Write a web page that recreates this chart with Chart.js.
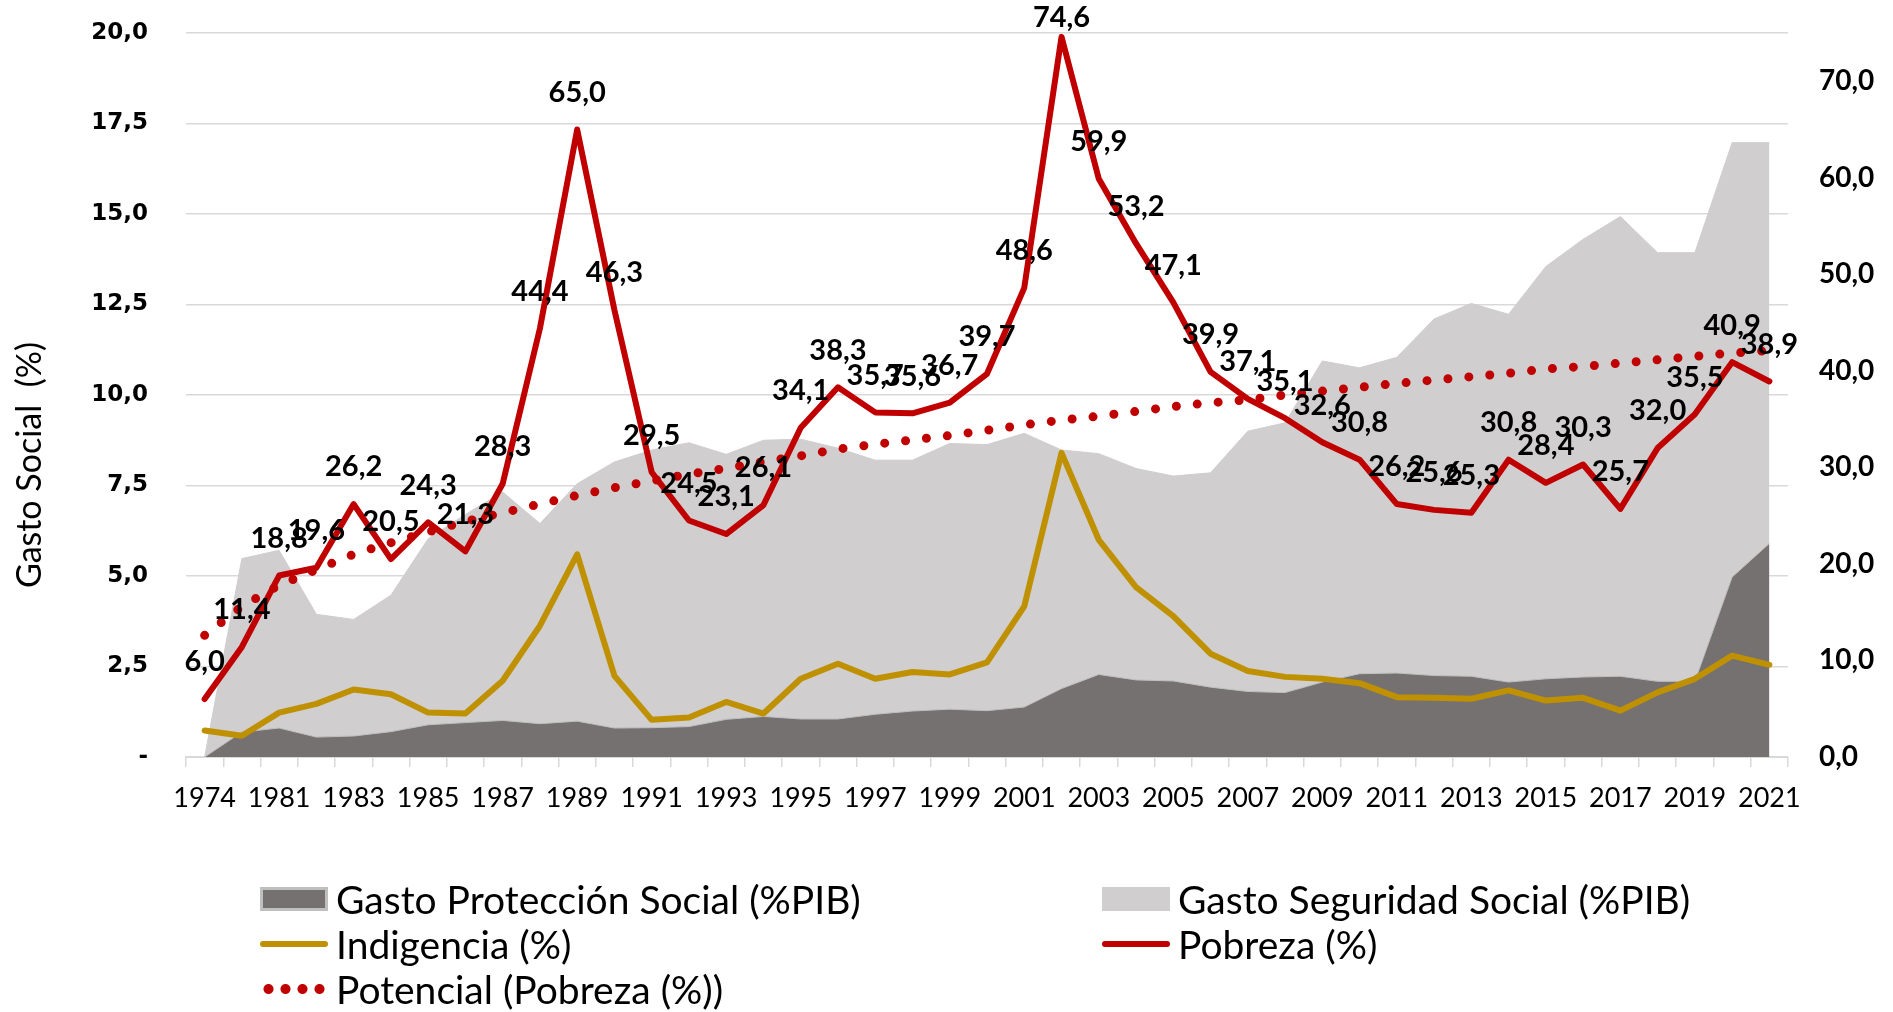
<!DOCTYPE html>
<html lang="es">
<head>
<meta charset="utf-8">
<title>Gasto social, pobreza e indigencia</title>
<script src="https://cdn.jsdelivr.net/npm/chart.js@4.4.1/dist/chart.umd.min.js"></script>
<style>
  html, body { margin: 0; padding: 0; background: #fff; overflow: hidden; }
  #wrap { position: relative; width: 1893px; height: 1012px; }
  #legend {
    position: absolute; left: 260px; top: 876px;
    display: grid; grid-template-columns: 842px auto;
    font-family: Lato, sans-serif; font-size: 39px; color: #000;
  }
  .item { display: flex; align-items: center; height: 45px; white-space: nowrap; }
  .mk { width: 68px; margin-right: 8px; flex: none; box-sizing: border-box; }
</style>
</head>
<body>
<div id="wrap">
  <canvas id="chart" width="1893" height="1012"></canvas>
  <div id="legend"></div>
</div>
<script>
// Gasto social (%PIB, eje izq.) vs pobreza / indigencia (% , eje der.)

const years = ['1974', '1980', '1981', '1982', '1983', '1984', '1985', '1986', '1987', '1988',
  '1989', '1990', '1991', '1992', '1993', '1994', '1995', '1996', '1997', '1998', '1999',
  '2000', '2001', '2002', '2003', '2004', '2005', '2006', '2007', '2008', '2009', '2010',
  '2011', '2012', '2013', '2014', '2015', '2016', '2017', '2018', '2019', '2020', '2021'];

const proteccion = [0, 0.69, 0.80, 0.55, 0.58, 0.70, 0.89, 0.95, 1.01, 0.92, 0.99, 0.80, 0.81,
  0.84, 1.04, 1.12, 1.05, 1.05, 1.18, 1.27, 1.32, 1.28, 1.38, 1.89, 2.28, 2.13, 2.10, 1.93,
  1.81, 1.78, 2.07, 2.30, 2.32, 2.25, 2.23, 2.07, 2.16, 2.21, 2.23, 2.09, 2.09, 4.97, 5.90];

const seguridad = [0, 5.48, 5.71, 3.94, 3.80, 4.47, 6.03, 6.70, 7.32, 6.45, 7.55, 8.15, 8.48,
  8.68, 8.36, 8.75, 8.78, 8.53, 8.20, 8.20, 8.66, 8.63, 8.94, 8.48, 8.38, 7.97, 7.76, 7.85,
  9.00, 9.23, 10.94, 10.75, 11.04, 12.10, 12.53, 12.23, 13.55, 14.30, 14.93, 13.93, 13.93,
  16.97, 16.97];

const indigencia = [2.75, 2.2, 4.6, 5.5, 7.0, 6.5, 4.6, 4.5, 7.9, 13.6, 21.0, 8.4, 3.85, 4.1,
  5.7, 4.5, 8.1, 9.66, 8.1, 8.8, 8.55, 9.8, 15.6, 31.5, 22.5, 17.6, 14.6, 10.7, 8.9, 8.3,
  8.1, 7.65, 6.2, 6.13, 6.03, 6.9, 5.85, 6.13, 4.8, 6.7, 8.1, 10.5, 9.55];

const pobreza = [6.0, 11.4, 18.8, 19.6, 26.2, 20.5, 24.3, 21.3, 28.3, 44.4, 65.0, 46.3, 29.5,
  24.5, 23.1, 26.1, 34.1, 38.3, 35.7, 35.6, 36.7, 39.7, 48.6, 74.6, 59.9, 53.2, 47.1, 39.9,
  37.1, 35.1, 32.6, 30.8, 26.2, 25.6, 25.3, 30.8, 28.4, 30.3, 25.7, 32.0, 35.5, 40.9, 38.9];

// tendencia potencial
const potencial = [12.6, 15.6, 17.8, 19.4, 21.0, 22.2, 23.3, 24.4, 25.3, 26.2, 27.1, 27.9,
  28.6, 29.3, 29.9, 30.6, 31.2, 31.9, 32.4, 32.85, 33.3, 33.85, 34.4, 34.9, 35.3, 35.8, 36.3,
  36.7, 37.0, 37.5, 37.9, 38.3, 38.7, 39.05, 39.4, 39.75, 40.2, 40.45, 40.8, 41.15, 41.5,
  41.85, 42.1];

const leftTicks = [0, 2.5, 5, 7.5, 10, 12.5, 15, 17.5, 20];

const dark = '#767171';
const light = '#D0CECE';
const gold = '#BF9000';
const red = '#C00000';
const rule = '#D9D9D9';

const comma = (v) => v.toFixed(1).replace('.', ',');

// fixed side widths, no extra label padding above/below the plot
function fixSide(width) {
  return (s) => {
    s.width = width;
    s.paddingTop = 0;
    s.paddingBottom = 0;
  };
}

const pobrezaLabels = {
  id: 'pobrezaLabels',
  afterDatasetsDraw(chart) {
    const meta = chart.getDatasetMeta(3);
    const ctx = chart.ctx;
    ctx.save();
    ctx.font = 'bold 29px Lato';
    ctx.fillStyle = '#000';
    ctx.textAlign = 'center';
    ctx.textBaseline = 'middle';
    meta.data.forEach((pt, i) => {
      ctx.fillText(comma(pobreza[i]), pt.x, Math.max(pt.y - 37, 18));
    });
    ctx.restore();
  },
};

const sideTitle = {
  id: 'sideTitle',
  afterDraw(chart) {
    const { ctx, chartArea } = chart;
    ctx.save();
    ctx.translate(30, (chartArea.top + chartArea.bottom) / 2 + 70);
    ctx.rotate(-Math.PI / 2);
    ctx.font = '34px Lato';
    ctx.fillStyle = '#000';
    ctx.textAlign = 'center';
    ctx.textBaseline = 'middle';
    ctx.fillText('Gasto Social  (%)', 0, 0);
    ctx.restore();
  },
};

const chart = new Chart(document.getElementById('chart'), {
  type: 'line',
  data: {
    labels: years,
    datasets: [
      {
        label: 'Gasto Protección Social (%PIB)',
        data: proteccion,
        yAxisID: 'y',
        fill: 'origin',
        backgroundColor: dark,
        borderColor: '#BFBFBF',
        borderWidth: 1,
        pointRadius: 0,
        order: 3,
      },
      {
        label: 'Gasto Seguridad Social (%PIB)',
        data: seguridad,
        yAxisID: 'y',
        fill: 'origin',
        backgroundColor: light,
        borderColor: light,
        borderWidth: 1,
        pointRadius: 0,
        order: 4,
      },
      {
        label: 'Indigencia (%)',
        data: indigencia,
        yAxisID: 'y1',
        fill: false,
        borderColor: gold,
        borderWidth: 6,
        borderJoinStyle: 'round',
        borderCapStyle: 'round',
        pointRadius: 0,
        order: 2,
      },
      {
        label: 'Pobreza (%)',
        data: pobreza,
        yAxisID: 'y1',
        fill: false,
        borderColor: red,
        borderWidth: 6,
        borderJoinStyle: 'round',
        borderCapStyle: 'round',
        pointRadius: 0,
        order: 1,
      },
      {
        label: 'Potencial (Pobreza (%))',
        data: potencial,
        yAxisID: 'y1',
        fill: false,
        borderColor: red,
        borderWidth: 9,
        borderDash: [0, 21],
        borderCapStyle: 'round',
        pointRadius: 0,
        order: 0,
      },
    ],
  },
  options: {
    responsive: false,
    animation: false,
    events: [],
    elements: { line: { tension: 0 } },
    layout: { autoPadding: false, padding: { top: 33, left: 0, right: 0, bottom: 0 } },
    plugins: {
      legend: { display: false },
      tooltip: { enabled: false },
    },
    scales: {
      x: {
        offset: true,
        grid: { offset: true, drawOnChartArea: false, tickLength: 10, color: rule, lineWidth: 1.5 },
        border: { color: rule, width: 2 },
        ticks: {
          autoSkip: false,
          maxRotation: 0,
          padding: 15,
          color: '#000',
          font: { family: 'Lato', size: 27 },
          callback: (v, i) => (i % 2 === 0 ? years[i] : ''),
        },
        afterFit: (s) => { s.height = 255; },
      },
      y: {
        position: 'left',
        min: 0,
        max: 20,
        afterBuildTicks: (s) => { s.ticks = leftTicks.map((v) => ({ value: v })); },
        grid: { color: rule, lineWidth: 1.5, drawTicks: false },
        border: { display: false },
        ticks: {
          padding: 38,
          color: '#000',
          font: { family: 'DejaVu Sans', size: 23, weight: 'bold' },
          callback: (v) => (v === 0 ? '-' : comma(v)),
        },
        afterFit: fixSide(186),
      },
      y1: {
        position: 'right',
        min: 0,
        max: 75,
        grid: { display: false, drawTicks: false },
        border: { display: false },
        ticks: {
          stepSize: 10,
          includeBounds: false,
          padding: 31,
          color: '#000',
          font: { family: 'Lato', size: 28, weight: 'bold' },
          callback: (v) => comma(v),
        },
        afterFit: fixSide(105),
      },
    },
  },
  plugins: [pobrezaLabels, sideTitle],
});

// leyenda en dos columnas, como en el original
function buildLegend(ch) {
  const box = document.getElementById('legend');
  ch.data.datasets.forEach((ds) => {
    const item = document.createElement('div');
    item.className = 'item';
    const mk = document.createElement('span');
    mk.className = 'mk';
    if (ds.fill) {
      mk.style.height = '24px';
      mk.style.background = ds.backgroundColor;
      if (ds.borderColor !== ds.backgroundColor) mk.style.border = '3px solid ' + ds.borderColor;
    } else if (ds.borderDash) {
      mk.style.height = '10px';
      mk.style.background = 'radial-gradient(circle, ' + ds.borderColor + ' 4.5px, transparent 5.5px) 0 0 / 17px 10px repeat-x';
    } else {
      mk.style.height = '6px';
      mk.style.borderRadius = '3px';
      mk.style.background = ds.borderColor;
    }
    const txt = document.createElement('span');
    txt.textContent = ds.label;
    item.appendChild(mk);
    item.appendChild(txt);
    box.appendChild(item);
  });
}
buildLegend(chart);
</script>
</body>
</html>
